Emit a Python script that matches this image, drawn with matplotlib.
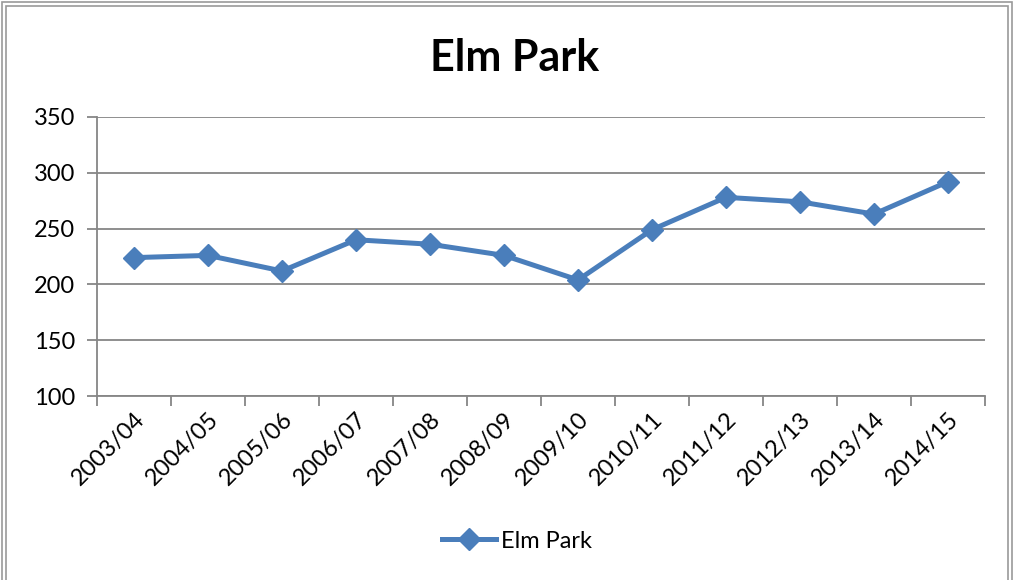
import matplotlib.pyplot as plt
from matplotlib.patches import Rectangle

# data
seasons = ['2003/04', '2004/05', '2005/06', '2006/07', '2007/08', '2008/09',
           '2009/10', '2010/11', '2011/12', '2012/13', '2013/14', '2014/15']
values = [224, 226, 212, 240, 236, 226, 204, 249, 278, 274, 263, 292]

line_color = '#4A7EBB'
grid_color = '#868686'

plt.rcParams['font.family'] = ['Lato', 'DejaVu Sans']

fig = plt.figure(figsize=(10.14, 5.8), dpi=100)

# double border around the chart
for inset in (2, 6):
    fig.patches.append(Rectangle((inset / 1014, -0.1), 1 - 2 * inset / 1014,
                                 1.1 - inset / 580, transform=fig.transFigure,
                                 fill=False, edgecolor='#9a9a9a', linewidth=1.2))

ax = fig.add_axes([0.0957, 0.3172, 0.8757, 0.4811])

x = list(range(len(seasons)))
ax.plot(x, values, color=line_color, linewidth=3.6, marker='D', markersize=11.5,
        label='Elm Park', zorder=3)

ax.set_xlim(-0.5, len(seasons) - 0.5)
ax.set_ylim(100, 350)
ax.set_yticks([100, 150, 200, 250, 300, 350])
ax.yaxis.grid(True, color=grid_color, linewidth=1.3)
ax.set_axisbelow(True)

# category boundaries get the tick marks, labels sit in the middle
ax.set_xticks([i - 0.5 for i in range(len(seasons) + 1)])
ax.set_xticklabels([])
ax.set_xticks(x, minor=True)
ax.set_xticklabels(seasons, minor=True, rotation=45, ha='right',
                   rotation_mode='anchor', fontsize=17)
ax.tick_params(axis='x', which='minor', length=0, pad=9)
ax.tick_params(axis='x', which='major', length=7, color=grid_color, width=1.3)
ax.tick_params(axis='y', length=7, color=grid_color, width=1.3, labelsize=17, pad=9)

for side in ('top', 'right'):
    ax.spines[side].set_visible(False)
for side in ('left', 'bottom'):
    ax.spines[side].set_color(grid_color)
    ax.spines[side].set_linewidth(1.3)

fig.text(0.507, 0.90, 'Elm Park', ha='center', va='center',
         fontsize=31, fontweight='bold')

fig.legend(loc='center', bbox_to_anchor=(0.51, 0.067), frameon=False,
           fontsize=17, handlelength=2.3, handletextpad=0.2)

fig.savefig('out.png', dpi=100)
